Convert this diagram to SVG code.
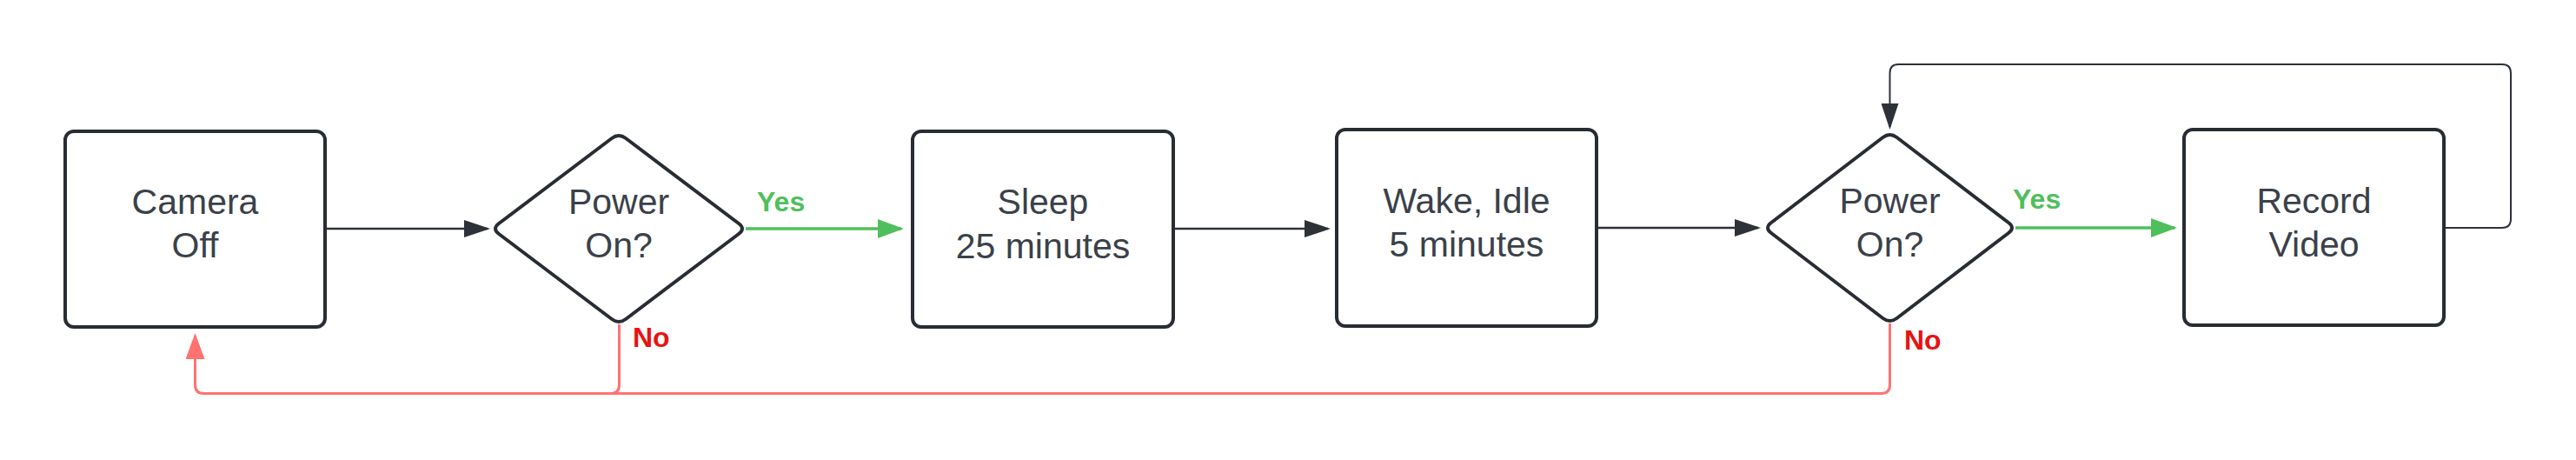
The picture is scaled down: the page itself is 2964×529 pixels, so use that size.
<svg xmlns="http://www.w3.org/2000/svg" width="2964" height="529" viewBox="0 0 2964 529">
<defs>
<style>
.node{fill:#ffffff;stroke:#282c33;stroke-width:4}
.lbl{font-family:"Liberation Sans",Arial,sans-serif;font-size:41px;fill:#3a414a;text-anchor:middle}
.dark{fill:none;stroke:#2e3238;stroke-width:2.5}
.green{fill:none;stroke:#4fbf5c;stroke-width:3.5}
.red{fill:none;stroke:#ff7272;stroke-width:3}
.yes{font-family:"Liberation Sans",Arial,sans-serif;font-size:32px;font-weight:bold;fill:#4fbf5c}
.no{font-family:"Liberation Sans",Arial,sans-serif;font-size:32px;font-weight:bold;fill:#e81313}
</style>
<marker id="ad" markerUnits="userSpaceOnUse" markerWidth="30" markerHeight="20" refX="27" refY="10" orient="auto"><path d="M0,0 L30,10 L0,20 Z" fill="#2e3238"/></marker>
<marker id="ag" markerUnits="userSpaceOnUse" markerWidth="30" markerHeight="22" refX="27" refY="11" orient="auto"><path d="M0,0 L30,11 L0,22 Z" fill="#4fbf5c"/></marker>
<marker id="ar" markerUnits="userSpaceOnUse" markerWidth="30" markerHeight="22" refX="27" refY="11" orient="auto"><path d="M0,0 L30,11 L0,22 Z" fill="#ff7272"/></marker>
</defs>
<rect width="2964" height="529" fill="#ffffff"/>
<g id="connectors">
<path class="dark" d="M374,263 L561,263" marker-end="url(#ad)"/>
<path class="green" d="M858,263 L1037,263" marker-end="url(#ag)"/>
<path class="dark" d="M1350,263 L1528,263" marker-end="url(#ad)"/>
<path class="dark" d="M1837,262 L2023,262" marker-end="url(#ad)"/>
<path class="green" d="M2319,262 L2502,262" marker-end="url(#ag)"/>
<path class="dark" style="stroke-width:2" d="M2812,262 L2879,262 Q2889,262 2889,252 L2889,84 Q2889,74 2879,74 L2184.5,74 Q2174.5,74 2174.5,84 L2174.5,146" marker-end="url(#ad)"/>
<path class="red" d="M2174.5,372 L2174.5,442.5 Q2174.5,452.5 2164.5,452.5 L234.5,452.5 Q224.5,452.5 224.5,442.5 L224.5,386" marker-end="url(#ar)"/>
<path class="red" d="M712.5,373 L712.5,442.5 Q712.5,452.5 702.5,452.5"/>
<text class="yes" x="871" y="243">Yes</text>
<text class="no" x="728" y="399">No</text>
<text class="yes" x="2316" y="240">Yes</text>
<text class="no" x="2191" y="402">No</text>
</g>
<g id="camera-off">
<rect class="node" x="75" y="151" width="299" height="225" rx="10"/>
<text class="lbl" x="224.5" y="246">Camera</text>
<text class="lbl" x="224.5" y="296">Off</text>
</g>
<g id="power-on-1">
<path class="node" d="M720,159 L850,257 Q858,263 850,269 L720,367 Q712,373 704,367 L574,269 Q566,263 574,257 L704,159 Q712,153 720,159 Z"/>
<text class="lbl" x="712" y="246">Power</text>
<text class="lbl" x="712" y="296">On?</text>
</g>
<g id="sleep">
<rect class="node" x="1050" y="151" width="300" height="225" rx="10"/>
<text class="lbl" x="1200" y="246">Sleep</text>
<text class="lbl" x="1200" y="297">25 minutes</text>
</g>
<g id="wake-idle">
<rect class="node" x="1538" y="149" width="299" height="226" rx="10"/>
<text class="lbl" x="1687.5" y="245">Wake, Idle</text>
<text class="lbl" x="1687.5" y="295">5 minutes</text>
</g>
<g id="power-on-2">
<path class="node" d="M2182.5,158 L2311,256 Q2319,262 2311,268 L2182.5,366 Q2174.5,372 2166.5,366 L2038,268 Q2030,262 2038,256 L2166.5,158 Q2174.5,152 2182.5,158 Z"/>
<text class="lbl" x="2174.5" y="245">Power</text>
<text class="lbl" x="2174.5" y="295">On?</text>
</g>
<g id="record-video">
<rect class="node" x="2513" y="149" width="299" height="225" rx="10"/>
<text class="lbl" x="2662.5" y="245">Record</text>
<text class="lbl" x="2662.5" y="295">Video</text>
</g>
</svg>
